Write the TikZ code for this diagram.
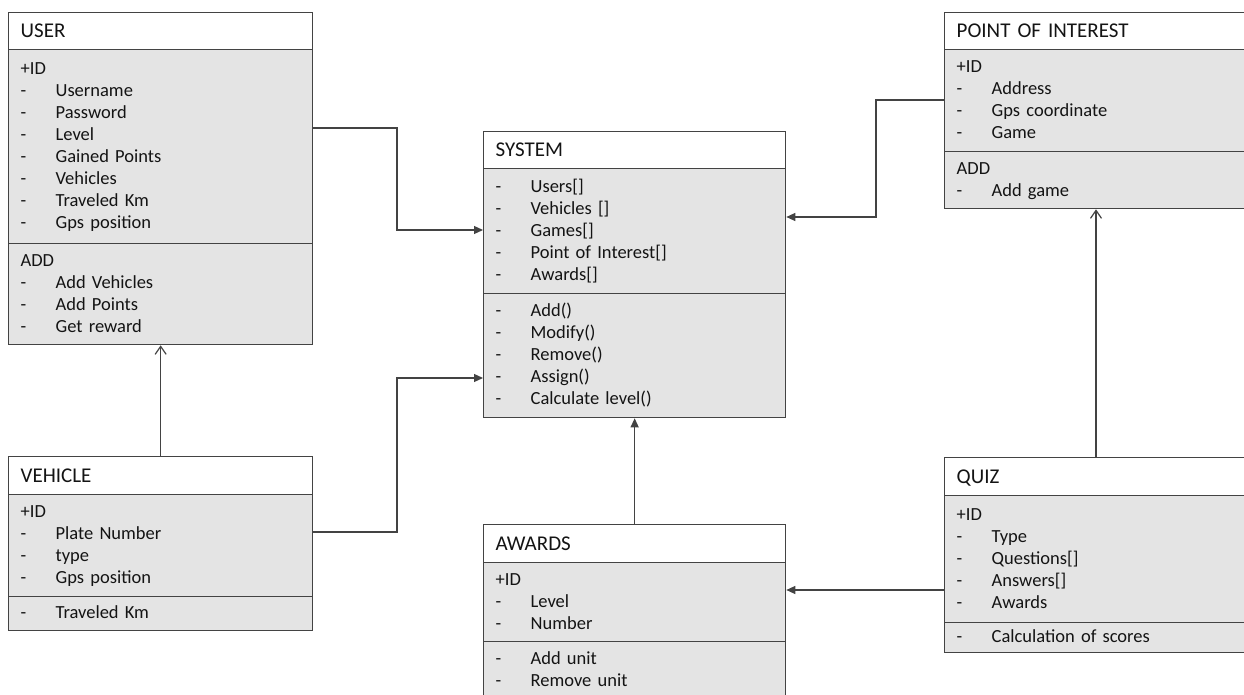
\documentclass[tikz,border=0pt]{standalone}
\usepackage{fontspec}
\setmainfont{Carlito}
\usetikzlibrary{arrows.meta}

\definecolor{linec}{HTML}{434343}
\definecolor{boxfill}{HTML}{E4E4E4}
\definecolor{txt}{HTML}{141414}

% uniform row height so every compartment centres its lines the same way
\newcommand\rowstrut{\rule[-5pt]{0pt}{20pt}}
\newcommand\titlestrut{\rule[-3.2pt]{0pt}{20pt}}
\newcommand\attr[1]{\rowstrut\makebox[35pt][l]{-}#1}
\newcommand\plain[1]{\rowstrut #1}

\tikzset{
  classtitle/.style={draw=linec, fill=white, line width=1.3pt, anchor=north west,
    inner xsep=12pt, inner ysep=0pt, align=left, text=txt,
    font=\fontsize{21}{24}\selectfont},
  compart/.style={draw=linec, fill=boxfill, line width=1.3pt, anchor=north west,
    inner xsep=12pt, inner ysep=0pt, align=left, text=txt,
    font=\fontsize{18.5}{22}\selectfont},
  wide/.style={minimum width=304pt, text width=280pt},
  narrow/.style={minimum width=302pt, text width=278pt},
  edge/.style={minimum width=330pt, text width=306pt},
  conn/.style={draw=linec, line width=1.2pt},
  solidhead/.style={conn, -{Triangle[length=9pt,width=8pt]}},
  openhead/.style={conn, -{Straight Barb[length=8pt,width=11pt]}},
}

\begin{document}
\begin{tikzpicture}[x=1pt, y=-1pt]
\useasboundingbox (0,0) rectangle (1244,695);
\clip (0,0) rectangle (1244,695);

% USER
\node[classtitle, wide, minimum height=37pt] (userT) at (8,12) {\titlestrut USER};
\node[compart, wide, minimum height=194pt] (userA) at (8,49)
  {\plain{+ID}\\ \attr{Username}\\ \attr{Password}\\ \attr{Level}\\
   \attr{Gained Points}\\ \attr{Vehicles}\\ \attr{Traveled Km}\\ \attr{Gps position}};
\node[compart, wide, minimum height=101pt] (userM) at (8,243)
  {\plain{ADD}\\ \attr{Add Vehicles}\\ \attr{Add Points}\\ \attr{Get reward}};

% SYSTEM
\node[classtitle, narrow, minimum height=37pt] (sysT) at (483,131) {\titlestrut SYSTEM};
\node[compart, narrow, minimum height=125pt] (sysA) at (483,168)
  {\attr{Users[]}\\ \attr{Vehicles []}\\ \attr{Games[]}\\ \attr{Point of Interest[]}\\ \attr{Awards[]}};
\node[compart, narrow, minimum height=124pt] (sysM) at (483,293)
  {\attr{Add()}\\ \attr{Modify()}\\ \attr{Remove()}\\ \attr{Assign()}\\ \attr{Calculate level()}};

% POINT OF INTEREST (runs past the right edge)
\node[classtitle, edge, minimum height=37pt] (poiT) at (944,12) {\titlestrut POINT OF INTEREST};
\node[compart, edge, minimum height=102pt] (poiA) at (944,49)
  {\plain{+ID}\\ \attr{Address}\\ \attr{Gps coordinate}\\ \attr{Game}};
\node[compart, edge, minimum height=57pt] (poiM) at (944,151)
  {\plain{ADD}\\ \attr{Add game}};

% VEHICLE
\node[classtitle, wide, minimum height=38pt] (vehT) at (8,456) {\titlestrut VEHICLE};
\node[compart, wide, minimum height=102pt] (vehA) at (8,494)
  {\plain{+ID}\\ \attr{Plate Number}\\ \attr{type}\\ \attr{Gps position}};
\node[compart, wide, minimum height=34pt] (vehM) at (8,596)
  {\attr{Traveled Km}};

% AWARDS (runs past the bottom edge)
\node[classtitle, narrow, minimum height=38pt] (awT) at (483,524) {\titlestrut AWARDS};
\node[compart, narrow, minimum height=79pt] (awA) at (483,562)
  {\plain{+ID}\\ \attr{Level}\\ \attr{Number}};
\node[compart, narrow, minimum height=58pt] (awM) at (483,641)
  {\attr{Add unit}\\ \attr{Remove unit}};

% QUIZ (runs past the right edge)
\node[classtitle, edge, minimum height=38pt] (quizT) at (944,457) {\titlestrut QUIZ};
\node[compart, edge, minimum height=127pt] (quizA) at (944,495)
  {\plain{+ID}\\ \attr{Type}\\ \attr{Questions[]}\\ \attr{Answers[]}\\ \attr{Awards}};
\node[compart, edge, minimum height=30pt] (quizM) at (944,622)
  {\attr{Calculation of scores}};

% connectors
\draw[solidhead] (userA.east |- 0,128) -- (397,128) |- (sysA.west |- 0,230);
\draw[solidhead] (vehA.east |- 0,532) -- (397,532) |- (sysM.west |- 0,378);
\draw[solidhead] (poiA.west |- 0,100) -- (876,100) |- (sysA.east |- 0,217);
\draw[solidhead] (awT.north) -- (sysM.south);
\draw[solidhead] (quizA.west |- 0,590) -- (awA.east |- 0,590);
\draw[openhead] (vehT.north) -- (userM.south);
\draw[openhead] (quizT.north -| 1096,0) -- (poiM.south -| 1096,0);
\end{tikzpicture}
\end{document}
